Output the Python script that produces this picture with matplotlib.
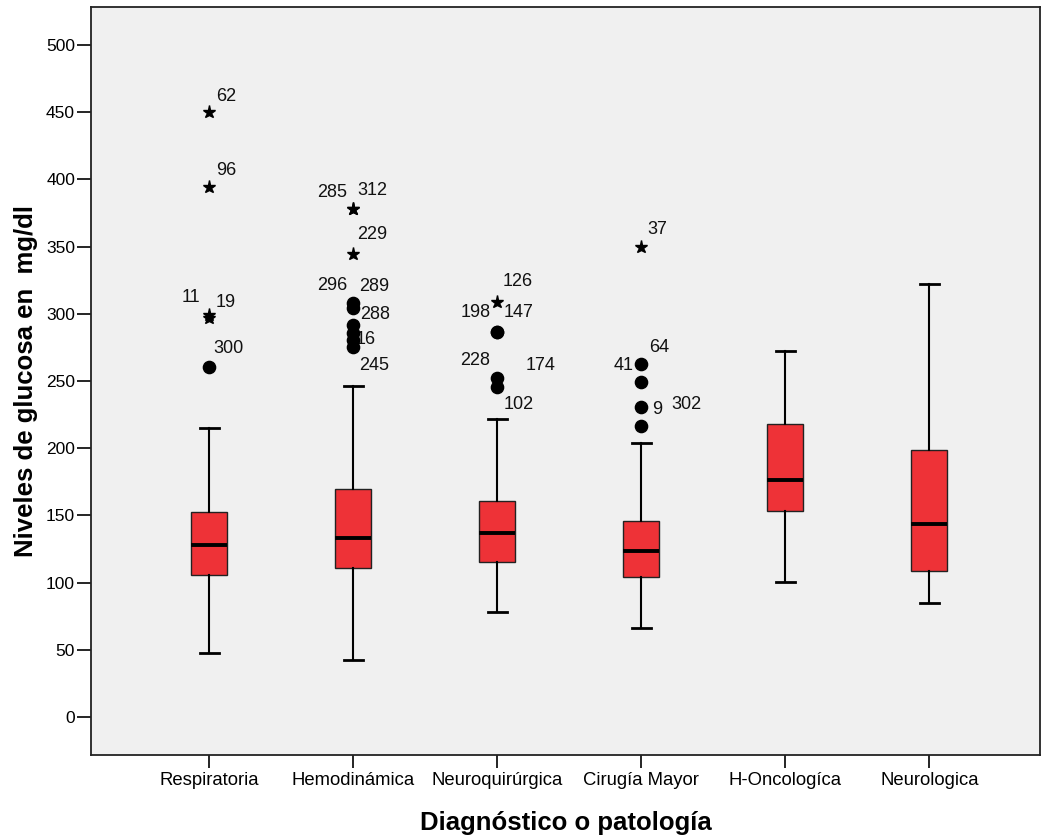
import numpy as np
import matplotlib
matplotlib.use("Agg")
import matplotlib.pyplot as plt

plt.rcParams['font.family'] = ['Liberation Sans', 'DejaVu Sans']

# Datos
categorias = ['Respiratoria', 'Hemodinámica', 'Neuroquirúrgica', 'Cirugía Mayor', 'H-Oncologíca', 'Neurologica']
whis_bajo = [47.4, 42.4, 78.4, 66.2, 100.4, 84.6]
q1 = [105.4, 110.9, 115.3, 104.4, 153.5, 108.9]
mediana = [127.7, 133.2, 137.1, 123.8, 176.3, 143.4]
q3 = [152.5, 169.4, 160.5, 145.8, 217.8, 198.4]
whis_alto = [214.8, 246.3, 221.7, 203.6, 272.6, 321.9]

# valores atipicos (circulos) y extremos (estrellas)
atip_grupo = [0, 1, 1, 1, 1, 1, 1, 2, 2, 2, 2, 3, 3, 3, 3]
atip_valor = [260.2, 307.8, 304.0, 291.7, 285.5, 280.5, 275.5, 286.7, 286.7, 252.0, 245.8, 262.6, 249.5, 230.9, 216.5]
extr_grupo = [0, 0, 0, 0, 1, 1, 1, 2, 3]
extr_valor = [449.9, 394.6, 299.0, 296.6, 377.7, 377.7, 344.5, 309.0, 350.0]

# etiquetas de casos
etiq_texto = ['62', '96', '11', '19', '300', '285', '312', '229', '296', '289', '288', '16', '245',
              '126', '198', '147', '228', '174', '102', '37', '64', '41', '9', '302']
etiq_grupo = [0, 0, 0, 0, 0, 1, 1, 1, 1, 1, 1, 1, 1, 2, 2, 2, 2, 2, 2, 3, 3, 3, 3, 3]
etiq_valor = [449.9, 394.6, 299.0, 299.0, 260.2, 377.7, 377.7, 344.5, 307.8, 307.8, 304.0, 280.5, 275.5,
              309.0, 286.7, 286.7, 252.0, 252.0, 245.8, 350.0, 262.6, 262.6, 230.9, 230.9]
# desplazamiento en pixeles (dx, dy hacia abajo, alineacion)
etiq_pos = [(7, -16, 'left'), (7, -16, 'left'), (-9, -18, 'right'), (6, -13, 'left'), (4, -19, 'left'),
            (-6, -17, 'right'), (4, -19, 'left'), (4, -19, 'left'), (-6, -18, 'right'), (6, -17, 'left'),
            (7, 6, 'left'), (2, 0, 'left'), (6, 19, 'left'),
            (5, -20, 'left'), (-7, -19, 'right'), (6, -19, 'left'), (-7, -18, 'right'), (28, -13, 'left'),
            (6, 18, 'left'), (6, -17, 'left'), (8, -17, 'left'), (-8, 1, 'right'), (11, 3, 'left'),
            (30, -2, 'left')]

pos = np.arange(1, len(categorias) + 1)

fig = plt.figure(figsize=(10.41, 8.39), dpi=100)
ax = fig.add_axes([0.0874, 0.1001, 0.9116, 0.8916])
ax.set_facecolor('#F0F0F0')

stats = []
for i in range(len(categorias)):
    stats.append({'whislo': whis_bajo[i], 'q1': q1[i], 'med': mediana[i],
                  'q3': q3[i], 'whishi': whis_alto[i], 'fliers': []})

ax.bxp(stats, positions=pos, widths=0.25, capwidths=0.13, patch_artist=True, showfliers=False,
       boxprops=dict(facecolor='#EE3237', edgecolor='#222222', linewidth=1.0),
       medianprops=dict(color='black', linewidth=2.8, solid_capstyle='butt'),
       whiskerprops=dict(color='black', linewidth=1.5),
       capprops=dict(color='black', linewidth=2.0))

ax.plot(pos[atip_grupo], atip_valor, 'o', color='black', markersize=8.8, zorder=5, linestyle='none')
ax.plot(pos[extr_grupo], extr_valor, '*', color='black', markersize=9.5, zorder=5, linestyle='none')

for t, g, v, (dx, dy, ha) in zip(etiq_texto, etiq_grupo, etiq_valor, etiq_pos):
    ax.annotate(t, (pos[g], v), xytext=(dx, -dy), textcoords='offset pixels',
                ha=ha, va='center', fontsize=13, color='#111111', zorder=3)

ax.set_xlim(0.177, 6.769)
ax.set_ylim(-28.3, 528.3)
ax.set_yticks(np.arange(0, 501, 50))
ax.set_xticks(pos)
ax.set_xticklabels(categorias, fontsize=13.3)
ax.tick_params(axis='y', labelsize=12.5, length=10, width=1.2, pad=1.5, direction='out')
ax.tick_params(axis='x', length=9, width=1.2, pad=3, direction='out')

for s in ax.spines.values():
    s.set_linewidth(1.3)
    s.set_color('#222222')

ax.set_ylabel('Niveles de glucosa en  mg/dl', fontsize=18.5, fontweight='bold', labelpad=6)
ax.set_xlabel('Diagnóstico o patología', fontsize=18.5, fontweight='bold', labelpad=16)

fig.savefig('out.png', dpi=100, facecolor='white')
